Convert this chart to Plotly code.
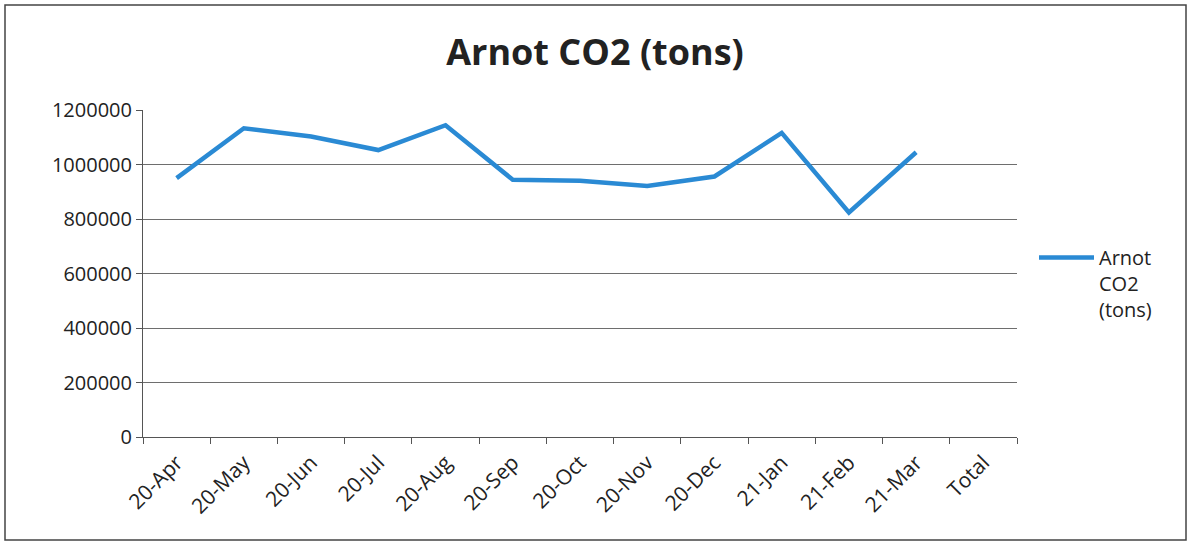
import plotly.graph_objects as go

categories = ["20-Apr", "20-May", "20-Jun", "20-Jul", "20-Aug", "20-Sep", "20-Oct",
              "20-Nov", "20-Dec", "21-Jan", "21-Feb", "21-Mar", "Total"]
co2_tons = [950000, 1133000, 1103000, 1053000, 1144000, 944000, 940000,
            921000, 956000, 1116000, 824000, 1045000, None]
y_ticks = [0, 200000, 400000, 600000, 800000, 1000000, 1200000]

FONT = "Open Sans"
L, R, T, B = 143, 1190 - 1017, 110, 543 - 437
PW, PH = 1190 - L - R, 543 - T - B

fig = go.Figure()
fig.add_trace(go.Scatter(
    x=categories, y=co2_tons, mode="lines", name="Arnot<br>CO2<br>(tons)",
    line=dict(color="#2a8ad4", width=4.5), connectgaps=False,
))

fig.update_layout(
    width=1190, height=543,
    margin=dict(l=L, r=R, t=T, b=B),
    paper_bgcolor="white", plot_bgcolor="white",
    font=dict(family=FONT, size=19, color="#222"),
    title=dict(text="<b>Arnot CO2 (tons)</b>", x=0.5, xanchor="center",
               y=1 - 52 / 543, yanchor="middle",
               font=dict(family=FONT, size=36, color="#222")),
    xaxis=dict(type="category", categoryorder="array", categoryarray=categories,
               range=[-0.5, len(categories) - 0.5],
               tickson="boundaries", ticks="outside", ticklen=6, tickcolor="#555",
               showline=True, linecolor="#555", linewidth=1, showgrid=False,
               tickangle=-45, tickfont=dict(size=21), ticklabelstandoff=4),
    yaxis=dict(range=[0, 1200000], tickvals=y_ticks, ticktext=[str(v) for v in y_ticks],
               ticks="outside", ticklen=6, tickcolor="#555",
               showline=True, linecolor="#555", linewidth=1,
               showgrid=True, gridcolor="#6e6e6e", gridwidth=1, zeroline=False,
               tickfont=dict(size=20)),
    legend=dict(x=(1034 - L) / PW, y=(437 - 238) / PH, xanchor="left", yanchor="top",
                font=dict(size=20), bgcolor="rgba(0,0,0,0)", valign="top",
                itemwidth=55),
    showlegend=True,
)

fig.add_shape(type="rect", xref="paper", yref="paper",
              x0=(5 - L) / PW, x1=(1186 - L) / PW,
              y0=(437 - 540) / PH, y1=(437 - 5) / PH,
              line=dict(color="#444", width=1.5), fillcolor="rgba(0,0,0,0)", layer="below")

fig.write_html("out.html", config={"displayModeBar": False},
               post_script="document.body.style.margin='0';")
